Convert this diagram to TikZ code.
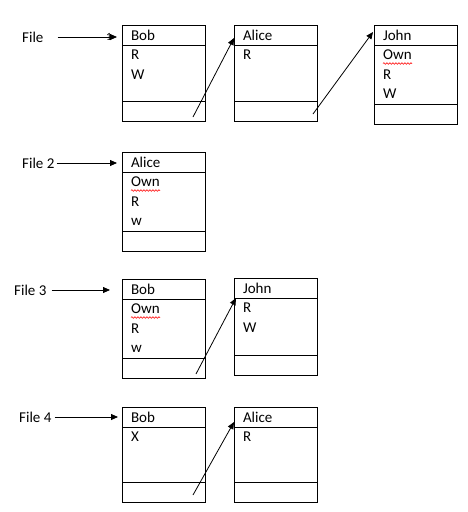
\documentclass[tikz,border=0pt]{standalone}
\usepackage{fontspec}
\setmainfont{Carlito}
\usepackage{tikz}
\usetikzlibrary{arrows.meta, positioning, decorations.pathmorphing}

\begin{document}
\begin{tikzpicture}[x=1pt, y=-1pt,
      font=\fontsize{15}{19.5}\selectfont,
      head/.style={draw, line width=0.9pt, outer sep=0pt, anchor=north west, text width=65pt, inner xsep=9pt, inner ysep=0pt, minimum height=20pt, align=left},
      body/.style={draw, line width=0.9pt, outer sep=0pt, minimum width=83pt, minimum height=#1, inner sep=0pt},
      foot/.style={draw, line width=0.9pt, outer sep=0pt, minimum width=83pt, minimum height=20pt, inner sep=0pt},
      perms/.style={anchor=north west, align=left, inner sep=0pt},
      lbl/.style={anchor=west, inner sep=0pt},
      arr/.style={-{Triangle[length=7pt, width=6pt]}, line width=0.8pt},
      spell/.style={draw=red, line width=0.6pt, decorate, decoration={snake, segment length=3pt, amplitude=0.8pt}},
    ]
    \useasboundingbox (0,0) rectangle (468,512);

    % File
    \node[lbl] (f1) at (22,37) {File};
    \node[head] (b1h) at (122,25) {Bob};
    \node[body=56pt, below=0pt of b1h] (b1b) {};
    \node[foot, below=0pt of b1b] (b1f) {};
    \node[perms] (b1p) at ([xshift=9pt,yshift=-5pt]b1b.north west) {R\\W};

    \node[head] (a1h) at (234,25) {Alice};
    \node[body=56pt, below=0pt of a1h] (a1b) {};
    \node[foot, below=0pt of a1b] (a1f) {};
    \node[perms] (a1p) at ([xshift=9pt,yshift=-5pt]a1b.north west) {R};

    \node[head] (j1h) at (374,25) {John};
    \node[body=59pt, below=0pt of j1h] (j1b) {};
    \node[foot, below=0pt of j1b] (j1f) {};
    \node[perms] (j1p) at ([xshift=9pt,yshift=-5pt]j1b.north west) {Own\\R\\W};
    \path[spell] ([yshift=-13.5pt]j1p.north west) -- ++(29,0);

    \node[font=\fontsize{11}{12}\selectfont, inner sep=0pt] (one) at (109,37) {1};
    \draw[arr] ([xshift=14pt]f1.east) -- ([xshift=-5pt]f1.east -| b1h.west);
    \coordinate (s1) at (193,117);
    \draw[arr] (s1) -- ([yshift=-3pt]a1h.west);
    \coordinate (s2) at (313,114);
    \draw[arr] (s2) -- ([xshift=-1pt,yshift=3pt]j1h.west);

    % File 2
    \node[lbl] (f2) at (22,163) {File 2};
    \node[head] (a2h) at (122,152) {Alice};
    \node[body=59pt, below=0pt of a2h] (a2b) {};
    \node[foot, below=0pt of a2b] (a2f) {};
    \node[perms] (a2p) at ([xshift=9pt,yshift=-5pt]a2b.north west) {Own\\R\\w};
    \path[spell] ([yshift=-13.5pt]a2p.north west) -- ++(29,0);
    \draw[arr] ([xshift=2pt]f2.east) -- ([xshift=-5pt]f2.east -| a2h.west);

    % File 3
    \node[lbl] (f3) at (14,290) {File 3};
    \node[head] (b3h) at (122,279) {Bob};
    \node[body=59pt, below=0pt of b3h] (b3b) {};
    \node[foot, below=0pt of b3b] (b3f) {};
    \node[perms] (b3p) at ([xshift=9pt,yshift=-5pt]b3b.north west) {Own\\R\\w};
    \path[spell] ([yshift=-13.5pt]b3p.north west) -- ++(29,0);

    \node[head] (j3h) at (234,278) {John};
    \node[body=57pt, below=0pt of j3h] (j3b) {};
    \node[foot, below=0pt of j3b] (j3f) {};
    \node[perms] (j3p) at ([xshift=9pt,yshift=-5pt]j3b.north west) {R\\W};

    \draw[arr] ([xshift=5pt]f3.east) -- ([xshift=-12pt]f3.east -| b3h.west);
    \coordinate (s3) at (196,374);
    \draw[arr] (s3) -- ([xshift=2pt]j3h.south west);

    % File 4
    \node[lbl] (f4) at (19,417) {File 4};
    \node[head] (b4h) at (122,407) {Bob};
    \node[body=55pt, below=0pt of b4h] (b4b) {};
    \node[foot, below=0pt of b4b] (b4f) {};
    \node[perms] (b4p) at ([xshift=9pt,yshift=-5pt]b4b.north west) {X};

    \node[head] (a4h) at (234,407) {Alice};
    \node[body=55pt, below=0pt of a4h] (a4b) {};
    \node[foot, below=0pt of a4b] (a4f) {};
    \node[perms] (a4p) at ([xshift=9pt,yshift=-5pt]a4b.north west) {R};

    \draw[arr] ([xshift=3pt]f4.east) -- ([xshift=-4pt]f4.east -| b4h.west);
    \coordinate (s4) at (193,495);
    \draw[arr] (s4) -- ([yshift=-5pt]a4h.west);
  \end{tikzpicture}
\end{document}
